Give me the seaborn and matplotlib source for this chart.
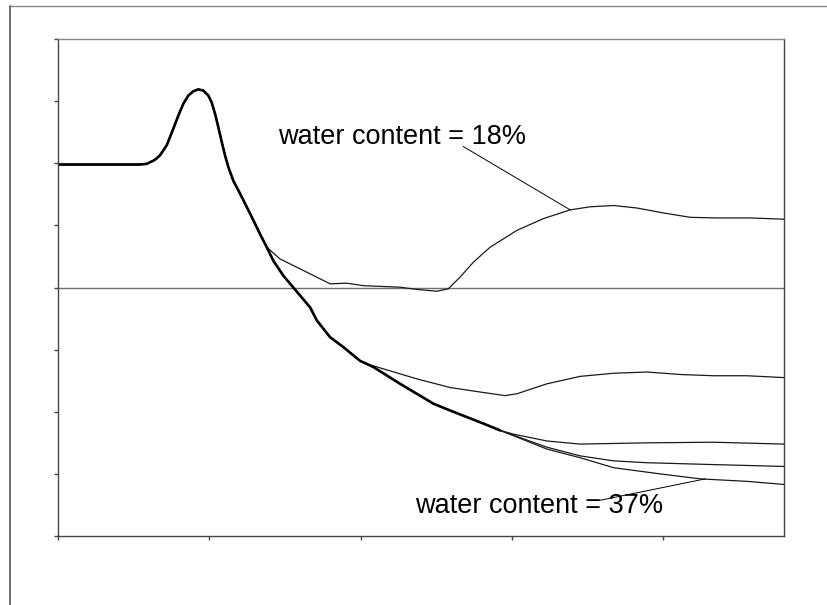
import numpy as np
import pandas as pd
import matplotlib
matplotlib.use("Agg")
import matplotlib.pyplot as plt
from matplotlib.lines import Line2D
import seaborn as sns

# shared start of all curves (before the first branch)
trunk_x = [0.0, 0.54, 0.585, 0.63, 0.653, 0.675, 0.719, 0.763, 0.796, 0.829,
           0.862, 0.895, 0.928, 0.961, 0.994, 1.016, 1.038, 1.060, 1.083, 1.104,
           1.126, 1.159, 1.204, 1.270, 1.336, 1.380]
trunk_y = [1.98, 1.98, 1.99, 2.04, 2.08, 2.13, 2.29, 2.56, 2.77, 2.96,
           3.09, 3.16, 3.19, 3.17, 3.09, 2.98, 2.80, 2.58, 2.34, 2.13,
           1.94, 1.72, 1.51, 1.19, 0.86, 0.65]

# water content = 18%
branch18_x = [1.380, 1.468, 1.667, 1.799, 1.909, 2.019, 2.262, 2.372, 2.505, 2.581,
              2.659, 2.747, 2.857, 3.034, 3.210, 3.386, 3.519, 3.673, 3.827, 4.003,
              4.180, 4.356, 4.577, 4.80]
branch18_y = [0.65, 0.46, 0.22, 0.06, 0.07, 0.03, 0.005, -0.03, -0.06, -0.02,
              0.17, 0.41, 0.65, 0.92, 1.11, 1.25, 1.30, 1.32, 1.28, 1.20,
              1.13, 1.12, 1.12, 1.10]

# shared section of the other four curves
mid_x = [1.380, 1.424, 1.490, 1.556, 1.667, 1.711, 1.799, 1.887, 1.997, 2.042]
mid_y = [0.65, 0.43, 0.19, 0.0, -0.32, -0.53, -0.80, -0.96, -1.18, -1.23]

branch2_x = [2.042, 2.372, 2.593, 2.813, 2.956, 3.034, 3.232, 3.452, 3.673, 3.893,
             4.114, 4.335, 4.555, 4.80]
branch2_y = [-1.23, -1.47, -1.61, -1.69, -1.74, -1.71, -1.55, -1.43, -1.38, -1.36,
             -1.40, -1.42, -1.42, -1.45]

low_x = [2.042, 2.085, 2.262, 2.482, 2.593, 2.813, 2.923]
low_y = [-1.23, -1.28, -1.55, -1.87, -1.98, -2.19, -2.30]

branch3_x = [2.923, 3.011, 3.232, 3.452, 3.893, 4.334, 4.80]
branch3_y = [-2.30, -2.36, -2.47, -2.52, -2.50, -2.49, -2.52]

branch4_x = [2.923, 3.232, 3.452, 3.673, 3.893, 4.334, 4.80]
branch4_y = [-2.30, -2.57, -2.71, -2.79, -2.82, -2.85, -2.88]

# water content = 37%
branch5_x = [2.923, 3.232, 3.452, 3.673, 3.981, 4.246, 4.555, 4.80]
branch5_y = [-2.30, -2.60, -2.74, -2.90, -3.00, -3.08, -3.12, -3.17]

labels = ["water content = 18%", "water content = 37%"]


def build_curves():
    pieces = {
        "c18": [(trunk_x, trunk_y), (branch18_x, branch18_y)],
        "c2": [(trunk_x, trunk_y), (mid_x, mid_y), (branch2_x, branch2_y)],
        "c3": [(trunk_x, trunk_y), (mid_x, mid_y), (low_x, low_y), (branch3_x, branch3_y)],
        "c4": [(trunk_x, trunk_y), (mid_x, mid_y), (low_x, low_y), (branch4_x, branch4_y)],
        "c37": [(trunk_x, trunk_y), (mid_x, mid_y), (low_x, low_y), (branch5_x, branch5_y)],
    }
    frames = []
    for name, parts in pieces.items():
        xs = np.concatenate([p[0] for p in parts])
        ys = np.concatenate([p[1] for p in parts])
        frames.append(pd.DataFrame({"x": xs, "y": ys, "curve": name}))
    return pd.concat(frames, ignore_index=True)


sns.set_style("white")
plt.rcParams["font.family"] = ["Liberation Sans", "DejaVu Sans"]

fig = plt.figure(figsize=(8.27, 6.05), dpi=100)
ax = fig.add_axes([0.0701, 0.114, 0.878, 0.8215])

df = build_curves()
sns.lineplot(data=df, x="x", y="y", units="curve", estimator=None, sort=False,
             color="#1a1a1a", linewidth=0.9, ax=ax)

# the overlapping start of the curves reads as one heavy line
common = pd.DataFrame({"x": np.concatenate([trunk_x, mid_x, low_x]),
                       "y": np.concatenate([trunk_y, mid_y, low_y])})
sns.lineplot(data=common, x="x", y="y", estimator=None, sort=False,
             color="black", linewidth=1.9, ax=ax)

ax.axhline(0, color="#707070", linewidth=1.0, zorder=1)

ax.set_xlim(0, 4.8)
ax.set_ylim(-4, 4)
ax.set_xticks(np.arange(0, 5, 1))
ax.set_yticks(np.arange(-4, 5, 1))
ax.set_xticklabels([])
ax.set_yticklabels([])
ax.set_xlabel("")
ax.set_ylabel("")
ax.tick_params(axis="both", direction="out", length=3, width=1, color="#444444",
               bottom=True, left=True)
for side, spine in ax.spines.items():
    spine.set_visible(True)
    spine.set_linewidth(1.0)
    spine.set_color("#888888" if side == "top" else "#444444")

# annotations with leader lines
ax.text(1.455, 2.43, labels[0], fontsize=19.5, ha="left", va="center", color="black")
ax.annotate("", xy=(3.386, 1.25), xytext=(2.679, 2.27),
            arrowprops=dict(arrowstyle="-", color="black", lw=0.7, shrinkA=0, shrinkB=0))
ax.text(2.361, -3.51, labels[1], fontsize=19.5, ha="left", va="center", color="black")
ax.annotate("", xy=(4.279, -3.08), xytext=(3.573, -3.43),
            arrowprops=dict(arrowstyle="-", color="black", lw=0.7, shrinkA=0, shrinkB=0))

# outer frame lines of the original page
fig.add_artist(Line2D([9.5 / 827, 1.0], [1 - 5.5 / 605, 1 - 5.5 / 605],
                      transform=fig.transFigure, color="#888888", lw=1.0))
fig.add_artist(Line2D([9.5 / 827, 9.5 / 827], [0.0, 1 - 5.5 / 605],
                      transform=fig.transFigure, color="#555555", lw=1.2))

fig.savefig("out.png", dpi=100)
